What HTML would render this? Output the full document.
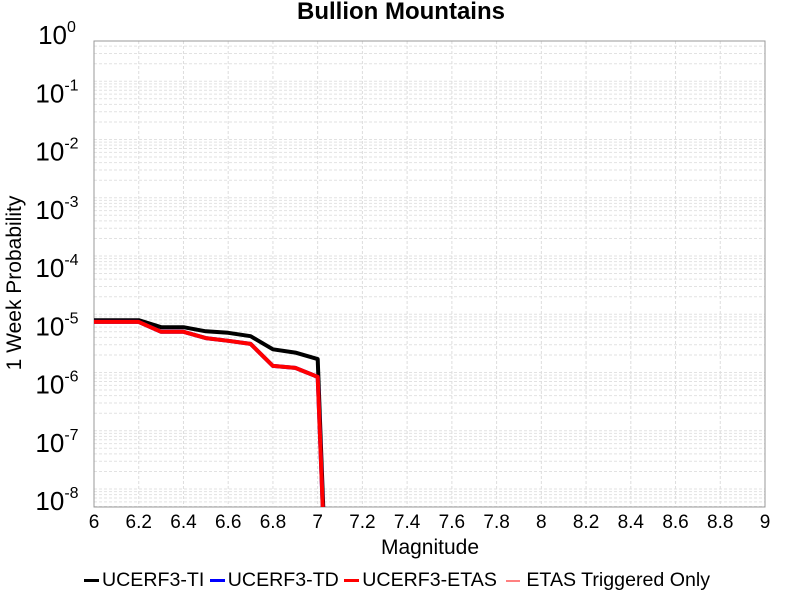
<!DOCTYPE html>
<html><head><meta charset="utf-8"><style>
html,body{margin:0;background:#fff;font-family:"Liberation Sans",sans-serif;width:800px;height:600px;overflow:hidden}
svg{display:block}
svg text{font-family:"Liberation Sans",sans-serif}
</style></head><body>
<svg id="c" width="800" height="600" xmlns="http://www.w3.org/2000/svg" style="position:absolute;left:0;top:0"></svg>
<script>
const mags=[6.0,6.1,6.2,6.3,6.4,6.5,6.6,6.7,6.8,6.9,7.0,7.1];
const ti=[7.9e-6,7.9e-6,7.9e-6,6.0e-6,6.0e-6,5.1e-6,4.8e-6,4.2e-6,2.5e-6,2.2e-6,1.7e-6,1e-16];
const td=[7.4e-6,7.4e-6,7.4e-6,5.0e-6,5.0e-6,3.9e-6,3.5e-6,3.1e-6,1.3e-6,1.2e-6,8.4e-7,1e-16];
const etas=[7.4e-6,7.4e-6,7.4e-6,5.0e-6,5.0e-6,3.9e-6,3.5e-6,3.1e-6,1.3e-6,1.2e-6,8.4e-7,1e-16];
const trig=[7.4e-6,7.4e-6,7.4e-6,5.0e-6,5.0e-6,3.9e-6,3.5e-6,3.1e-6,1.3e-6,1.2e-6,8.4e-7,1e-16];
const xTicks=[6,6.2,6.4,6.6,6.8,7,7.2,7.4,7.6,7.8,8,8.2,8.4,8.6,8.8,9];
const yExps=[0,-1,-2,-3,-4,-5,-6,-7,-8];

const NS="http://www.w3.org/2000/svg",svg=document.getElementById('c');
const L=94,R=765,T=41,B=507;
const X=v=>L+(v-6)/3*(R-L);
const Y=v=>23+(-Math.log10(v))*58.25;
function el(t,a,p){const e=document.createElementNS(NS,t);for(const k in a)e.setAttribute(k,a[k]);(p||svg).appendChild(e);return e;}
const defs=el('defs',{});const cp=el('clipPath',{id:'pc'},defs);el('rect',{x:L,y:T,width:R-L,height:B-T},cp);
const grid=el('g',{});


for(let e=0;e>=-9;e--)for(let m=1;m<10;m++){const y=Y(m*Math.pow(10,e));if(y<T||y>B)continue;
 el('line',{x1:L,x2:R,y1:y,y2:y,stroke:'#e2e2e2','stroke-width':1,'stroke-dasharray':'3,2'},grid);}
xTicks.forEach(t=>{const x=X(t);el('line',{x1:x,x2:x,y1:T,y2:B,stroke:'#ddd','stroke-width':1,'stroke-dasharray':'3,2'},grid);});
const frame=el('rect',{x:L,y:T,width:R-L,height:B-T,fill:'none',stroke:'#999','stroke-width':1});


xTicks.forEach(t=>{const tx=el('text',{x:X(t),y:528,'text-anchor':'middle','font-size':19,fill:'#000'});tx.textContent=String(t);
 
 });
yExps.forEach(e=>{const y=Y(Math.pow(10,e))+12;const tx=el('text',{x:57,y:y+9,'font-size':26,'text-anchor':'middle',fill:'#000'});
 tx.innerHTML='10<tspan dy="-12" font-size="16">'+e+'</tspan>';
 
 });
const g=el('g',{'clip-path':'url(#pc)'});
function series(vals,color,w,name){const pts=mags.map((m,i)=>X(m).toFixed(1)+','+Y(vals[i]).toFixed(1)).join(' ');
 const p=el('polyline',{points:pts,fill:'none',stroke:color,'stroke-width':w,'stroke-linejoin':'round'},g);
 
 }
series(ti,'#000',4,'series-ucerf3-ti');
series(td,'#0000ff',4,'series-ucerf3-td');
series(trig,'#ff8080',1.5,'series-etas-triggered');
series(etas,'#ff0000',4,'series-ucerf3-etas');
</script>
<div style="position:absolute;left:0;top:0;width:800px;height:600px;pointer-events:none;overflow:hidden">
<div style="position:absolute;left:0;width:802px;top:-2px;text-align:center;font-weight:bold;font-size:24px;line-height:28px">Bullion Mountains</div>
<div style="position:absolute;left:330px;width:200px;top:536px;text-align:center;font-size:21px;line-height:24px">Magnitude</div>
<div style="position:absolute;left:-85px;top:271px;width:200px;text-align:center;font-size:21px;line-height:24px;transform:rotate(-90deg)">1 Week Probability</div>
<div style="position:absolute;left:84px;top:568px;font-size:19.6px;line-height:24px;white-space:nowrap">
<span><span style="display:inline-block;width:15px;height:3px;background:#000;vertical-align:middle;margin-right:3px"></span>UCERF3-TI</span>
<span><span style="display:inline-block;width:15px;height:3px;background:#00f;vertical-align:middle;margin-right:3px"></span>UCERF3-TD</span>
<span><span style="display:inline-block;width:15px;height:3px;background:#f00;vertical-align:middle;margin-right:3px"></span>UCERF3-ETAS</span>
<span><span style="display:inline-block;width:14px;height:2px;background:#ff8080;vertical-align:middle;margin:0 6px 0 4px"></span>ETAS Triggered Only</span>
</div>
</div>
</body></html>
